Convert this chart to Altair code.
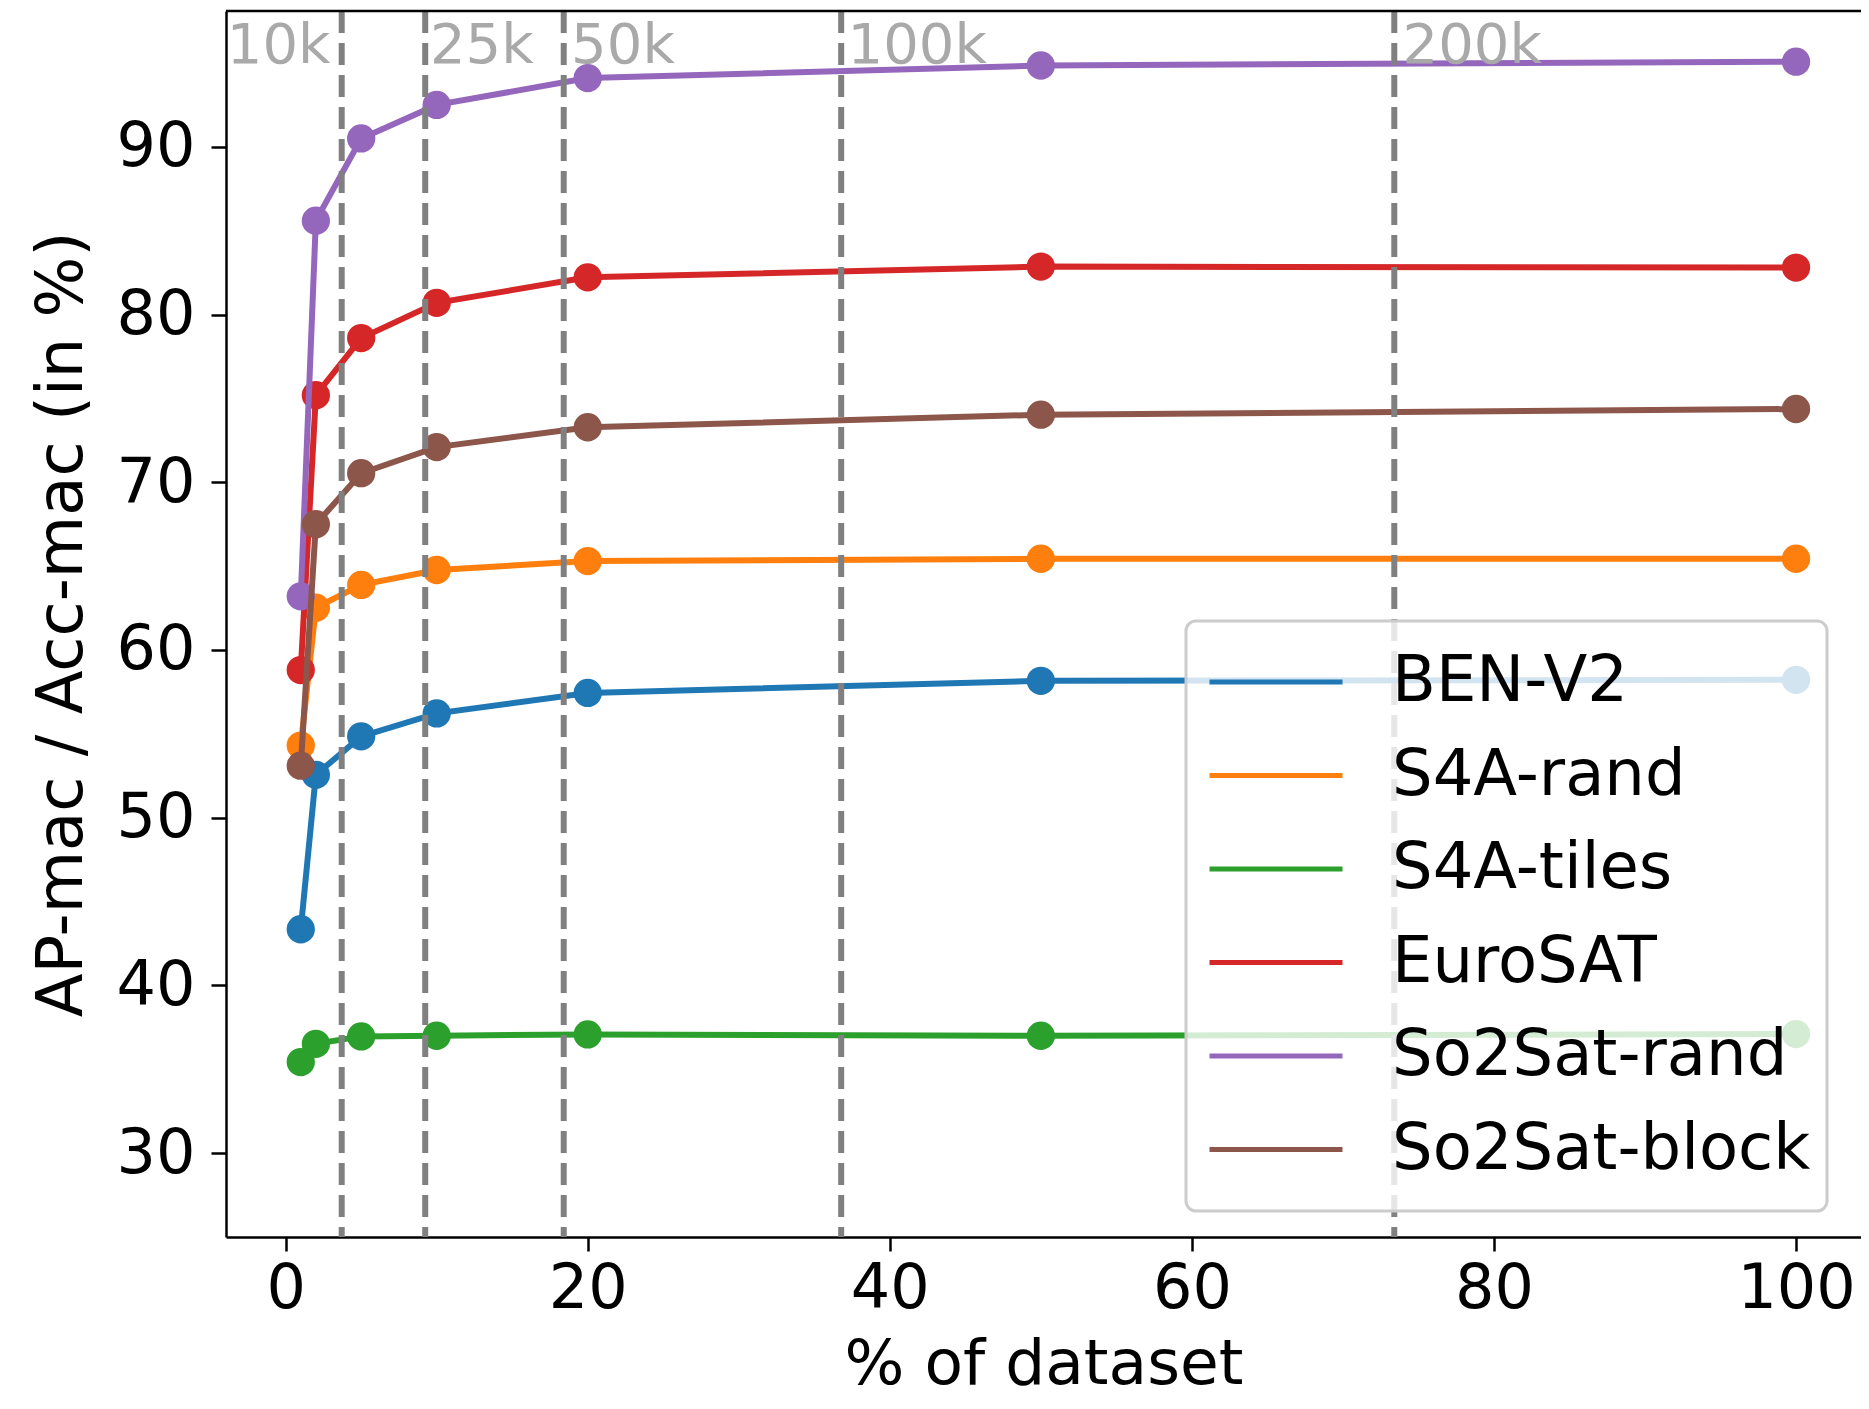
import altair as alt
import pandas as pd

# ---------------- data ----------------
pct = [1, 2, 5, 10, 20, 50, 100]
series_names = ["BEN-V2", "S4A-rand", "S4A-tiles", "EuroSAT", "So2Sat-rand", "So2Sat-block"]
ben_v2 = [43.35, 52.56, 54.85, 56.22, 57.44, 58.16, 58.22]
s4a_rand = [54.3, 62.52, 63.88, 64.77, 65.3, 65.44, 65.44]
s4a_tiles = [35.43, 36.52, 36.96, 37.0, 37.08, 37.0, 37.1]
eurosat = [58.8, 75.19, 78.6, 80.7, 82.22, 82.86, 82.8]
so2sat_rand = [63.2, 85.6, 90.5, 92.5, 94.1, 94.85, 95.08]
so2sat_block = [53.1, 67.5, 70.54, 72.1, 73.28, 74.03, 74.37]
series_values = [ben_v2, s4a_rand, s4a_tiles, eurosat, so2sat_rand, so2sat_block]
colors = ["#1f77b4", "#ff7f0e", "#2ca02c", "#d62728", "#9467bd", "#8c564b"]

size_lines = [3.71, 9.24, 18.41, 36.78, 73.40]
size_labels = ["10k", "25k", "50k", "100k", "200k"]
size_label_x = [-3.9, 9.55, 18.9, 37.2, 73.95]
size_label_y = [95.0, 95.0, 95.0, 95.0, 95.0]

x_ticks = [0, 20, 40, 60, 80, 100]
y_ticks = [30, 40, 50, 60, 70, 80, 90]

rows = []
for name, vals in zip(series_names, series_values):
    for p, v in zip(pct, vals):
        rows.append({"series": name, "pct": p, "value": v})
df = pd.DataFrame(rows)
vline_df = pd.DataFrame({"pct": size_lines})
label_df = pd.DataFrame({"pct": size_label_x, "value": size_label_y, "label": size_labels})

W, H = 1635, 1226
FONT = "DejaVu Sans"

x_enc = alt.X(
    "pct:Q",
    title="% of dataset",
    scale=alt.Scale(domain=[-3.95, 104.3], nice=False, zero=False),
    axis=alt.Axis(values=x_ticks, format="d", labelPadding=7, tickSize=14,
                  titleY=146, titleFontSize=63, titleBaseline="alphabetic"),
)
y_enc = alt.Y(
    "value:Q",
    title="AP-mac / Acc-mac (in %)",
    scale=alt.Scale(domain=[25.0, 98.1], nice=False, zero=False),
    axis=alt.Axis(values=y_ticks, format="d", labelPadding=16, titleX=-164,
                  titleY=H / 2, titleBaseline="middle", titleAngle=270),
)
color_enc = alt.Color(
    "series:N",
    scale=alt.Scale(domain=series_names, range=colors),
    legend=alt.Legend(
        title=None, orient="none", legendX=960, legendY=610,
        padding=16, fillColor="rgba(255,255,255,0.8)", strokeColor="#cccccc",
        symbolType="stroke", symbolSize=17689,
        symbolStrokeWidth=5, symbolOffset=5, clipHeight=90, rowPadding=3.5,
        labelFontSize=64, labelOffset=47, labelFont=FONT, labelColor="black",
        labelLimit=0, labelExpr="datum.label + '\u2009'",
    ),
)

layers = []
for name in series_names:
    base = alt.Chart(df).transform_filter(alt.datum.series == name)
    layers.append(base.mark_line(strokeWidth=6).encode(x=x_enc, y=y_enc, color=color_enc))
    layers.append(base.mark_point(filled=True, size=800, opacity=1).encode(x=x_enc, y=y_enc, color=color_enc))

vlines = alt.Chart(vline_df).mark_rule(color="#808080", strokeWidth=6, strokeDash=[22, 10]).encode(x=x_enc)
labels = alt.Chart(label_df).mark_text(
    align="left", baseline="alphabetic", fontSize=56, color="#a9a9a9", font=FONT
).encode(x=x_enc, y=y_enc, text="label:N")
top_spine = alt.Chart(pd.DataFrame({"a": [0]})).mark_rule(color="black", strokeWidth=2.5).encode(
    x=alt.value(0), x2=alt.value(W), y=alt.value(0)
)

chart = alt.layer(*layers, vlines, labels, top_spine).properties(
    width=W, height=H,
    autosize=alt.AutoSizeParams(type="none"),
    padding={"left": 218, "top": 3, "right": 0, "bottom": 161},
).configure_view(stroke=None).configure_axis(
    grid=False, labelFont=FONT, titleFont=FONT, labelFontSize=62, titleFontSize=64,
    titleFontWeight="normal", labelColor="black", titleColor="black",
    domainColor="black", domainWidth=2.5, tickColor="black", tickWidth=2.5, tickSize=15,
).configure_legend(labelFont=FONT, strokeWidth=3, cornerRadius=10)

chart.save("out.html", embed_options={"renderer": "svg", "actions": False})
